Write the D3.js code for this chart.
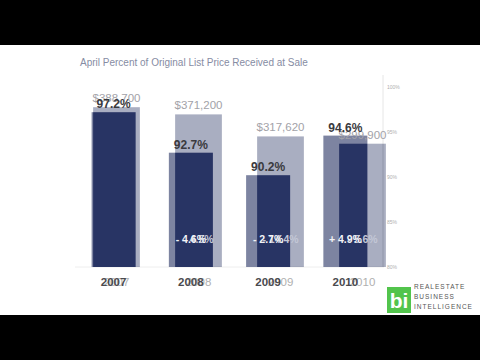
<!DOCTYPE html>
<html>
<head>
<meta charset="utf-8">
<script src="https://cdn.jsdelivr.net/npm/d3@7"></script>
<style>
  body { margin: 0; background: #000; }
  #frame { position: relative; width: 480px; height: 360px; background: #000; overflow: hidden; }
  #frame svg { position: absolute; left: 0; top: 0; }
  text { font-family: "Liberation Sans", Arial, sans-serif; }
</style>
</head>
<body>
<div id="frame"></div>
<script>
// two frames of a slide transition: % of list price received (A) fading over median price (B)
const years = ["2007", "2008", "2009", "2010"];
const pctReceived = [97.2, 92.7, 90.2, 94.6];
const pctChange = [null, "- 4.6%", "- 2.7%", "+ 4.9%"];
const medianPrice = [388700, 371200, 317620, 299900];
const priceChange = [null, "- 4.5%", "- 14.4%", "- 5.6%"];
const pctTicks = [80, 85, 90, 95, 100];
const titleA = "April Percent of Original List Price Received at Sale";
const logoLines = ["REALESTATE", "BUSINESS", "INTELLIGENCE"];

const W = 480, H = 360;
const panelTop = 45, panelBottom = 315;
const barColor = "#283464";
const fadeA = 0.6;

const frame = d3.select("#frame");

function layer() {
  const svg = frame.append("svg").attr("width", W).attr("height", H);
  svg.append("rect").attr("x", 0).attr("y", panelTop)
    .attr("width", W).attr("height", panelBottom - panelTop)
    .attr("fill", "#fff");
  return svg;
}

// scales
const xA = d3.scaleBand().domain(years).range([75, 384]).paddingInner(0.43).paddingOuter(0.215);
const yA = d3.scaleLinear().domain([80, 100]).range([267, 87]);
const xB = d3.scaleBand().domain(years).range([75.5, 403.5]).paddingInner(0.43).paddingOuter(0.215);
const yB = d3.scaleLinear().domain([0, 450000]).range([267, 82]);

// layer B (median price)
const svgB = layer();
svgB.selectAll("rect.bar")
  .data(years)
  .enter()
  .append("rect")
  .attr("class", "bar")
  .attr("x", d => xB(d))
  .attr("width", xB.bandwidth())
  .attr("y", (d, i) => yB(medianPrice[i]))
  .attr("height", (d, i) => yB(0) - yB(medianPrice[i]))
  .attr("fill", barColor);

// layer A (percent received), crossfaded on top
const svgA = layer().style("opacity", fadeA);
svgA.append("line")
  .attr("x1", 75).attr("x2", 384)
  .attr("y1", yA(80)).attr("y2", yA(80))
  .attr("stroke", "#e4e4e4");

svgA.selectAll("rect.bar")
  .data(years)
  .enter()
  .append("rect")
  .attr("class", "bar")
  .attr("x", d => xA(d))
  .attr("width", xA.bandwidth())
  .attr("y", (d, i) => yA(pctReceived[i]))
  .attr("height", (d, i) => yA(80) - yA(pctReceived[i]))
  .attr("fill", barColor);

const axis = svgA.append("g")
  .attr("transform", "translate(383,0)")
  .call(d3.axisRight(yA).tickValues(pctTicks).tickFormat(d => d + "%").tickSize(0).tickPadding(4));
axis.select(".domain").attr("stroke", "#d8d8d8").attr("d", `M0,${yA(100) - 12}V${yA(80)}`);
axis.selectAll("text").attr("font-size", 5).attr("fill", "#777");

// text layer
const txt = frame.append("svg").attr("width", W).attr("height", H);

txt.append("text")
  .attr("x", 80).attr("y", 66)
  .attr("font-size", 10)
  .attr("fill", "#868ca3")
  .text(titleA);

// B labels (lighter)
txt.selectAll("text.priceLabel")
  .data(years)
  .enter()
  .append("text")
  .attr("class", "priceLabel")
  .attr("x", d => xB(d) + xB.bandwidth() / 2)
  .attr("y", (d, i) => yB(medianPrice[i]) - 5)
  .attr("text-anchor", "middle")
  .attr("font-size", 11.5)
  .attr("fill", "#a2a2a8")
  .text((d, i) => d3.format("$,")(medianPrice[i]));

txt.selectAll("text.priceChange")
  .data(years.slice(1))
  .enter()
  .append("text")
  .attr("class", "priceChange")
  .attr("x", d => xB(d) + xB.bandwidth() / 2)
  .attr("y", 243)
  .attr("text-anchor", "middle")
  .attr("font-size", 10.5)
  .attr("font-weight", "bold")
  .attr("fill", "#c3c7d6")
  .text((d, i) => priceChange[i + 1]);

txt.selectAll("text.yearB")
  .data(years)
  .enter()
  .append("text")
  .attr("class", "yearB")
  .attr("x", d => xB(d) + xB.bandwidth() / 2)
  .attr("y", 286)
  .attr("text-anchor", "middle")
  .attr("font-size", 11.5)
  .attr("fill", "#b0b0b0")
  .text(d => d);

// A labels (stronger)
txt.selectAll("text.pctLabel")
  .data(years)
  .enter()
  .append("text")
  .attr("class", "pctLabel")
  .attr("x", d => xA(d) + xA.bandwidth() / 2)
  .attr("y", (d, i) => yA(pctReceived[i]) - 4)
  .attr("text-anchor", "middle")
  .attr("font-size", 12)
  .attr("font-weight", "bold")
  .attr("fill", "#3a3a3e")
  .text((d, i) => pctReceived[i].toFixed(1) + "%");

txt.selectAll("text.pctChange")
  .data(years.slice(1))
  .enter()
  .append("text")
  .attr("class", "pctChange")
  .attr("x", d => xA(d) + xA.bandwidth() / 2)
  .attr("y", 243)
  .attr("text-anchor", "middle")
  .attr("font-size", 10.5)
  .attr("font-weight", "bold")
  .attr("fill", "#f2f3f7")
  .text((d, i) => pctChange[i + 1]);

txt.selectAll("text.yearA")
  .data(years)
  .enter()
  .append("text")
  .attr("class", "yearA")
  .attr("x", d => xA(d) + xA.bandwidth() / 2)
  .attr("y", 286)
  .attr("text-anchor", "middle")
  .attr("font-size", 11.5)
  .attr("font-weight", "bold")
  .attr("fill", "#4a4a4e")
  .text(d => d);

// logo
const logo = txt.append("g").attr("transform", "translate(387,287)");
logo.append("rect").attr("width", 24).attr("height", 26).attr("fill", "#52c44c");
logo.append("text")
  .attr("x", 12).attr("y", 21)
  .attr("text-anchor", "middle")
  .attr("font-size", 21)
  .attr("font-weight", "bold")
  .attr("fill", "#fff")
  .text("bi");
logo.selectAll("text.line")
  .data(logoLines)
  .enter()
  .append("text")
  .attr("class", "line")
  .attr("x", 27)
  .attr("y", (d, i) => 2 + i * 10)
  .attr("font-size", 6.5)
  .attr("letter-spacing", 1)
  .attr("fill", "#555")
  .text(d => d);
</script>
</body>
</html>
